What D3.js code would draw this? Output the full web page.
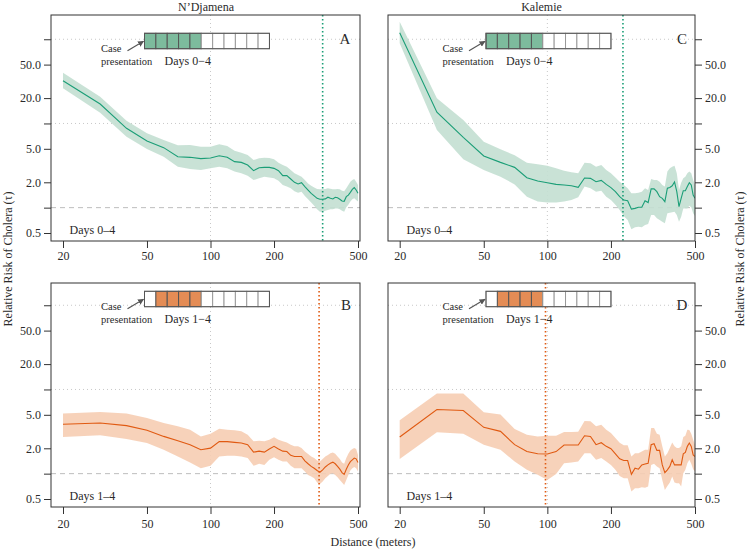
<!DOCTYPE html>
<meta charset="utf-8">
<script src="https://d3js.org/d3.v7.min.js"></script>
<style>
  body { margin: 0; background: #fff; }
  text { font-family: "Liberation Serif", "DejaVu Serif", serif; fill: #2a2a2a; }
</style>
<div id="my_dataviz"></div>
<script>

// distance grid (meters)
var dist = [20,30,40,50,60,70,80,90,100,110,120,130,140,150,160,170,180,190,200,210,220,230,240,250,
            260,270,280,290,300,310,320,330,340,350,360,370,380,390,400,410,420,430,440,450,460,470,480,490,500];

// N'Djamena, days 0-4 (panel A)
var ndjA_rr = [32.2,17.0,8.75,6.19,5.16,4.03,3.96,3.82,3.89,4.14,3.96,3.52,3.45,3.21,2.75,2.98,3.01,3.01,2.93,2.75,2.40,2.40,2.19,2.00,
               1.91,1.98,1.78,1.62,1.48,1.38,1.29,1.26,1.26,1.27,1.33,1.29,1.27,1.33,1.31,1.26,1.20,1.19,1.35,1.41,1.52,1.65,1.73,1.62,1.48];
var ndjA_hi = [40.1,20.8,10.8,7.63,6.36,5.50,5.55,5.30,5.30,5.65,5.40,4.75,4.50,4.22,3.68,3.85,3.92,3.89,3.75,3.42,3.21,3.07,2.80,2.56,
               2.44,2.33,2.13,1.94,1.82,1.73,1.67,1.65,1.65,1.67,1.70,1.68,1.65,1.65,1.67,1.65,1.59,1.57,1.70,1.86,2.03,2.13,2.19,2.03,1.86];
var ndjA_lo = [26.1,13.4,6.97,4.97,4.03,3.07,2.88,2.80,2.93,3.07,2.93,2.68,2.56,2.40,2.13,2.23,2.33,2.28,2.23,2.09,1.86,1.78,1.70,1.57,
               1.50,1.55,1.38,1.26,1.15,1.05,0.955,0.896,0.896,0.92,0.94,0.955,0.955,0.98,0.98,0.955,0.92,0.896,1.01,1.08,1.18,1.26,1.29,1.23,1.18];

// N'Djamena, days 1-4 (panel B)
var ndjB_rr = [3.86,4.00,3.72,3.27,2.77,2.46,2.21,1.92,2.01,2.40,2.40,2.35,2.31,2.21,1.80,1.85,1.80,1.96,2.11,1.96,1.85,1.83,1.65,1.60,
               1.60,1.60,1.42,1.31,1.22,1.16,1.09,1.04,1.11,1.20,1.27,1.33,1.37,1.31,1.22,1.13,1.03,0.98,1.13,1.27,1.39,1.46,1.53,1.50,1.36];
var ndjB_hi = [5.17,5.41,5.17,4.59,4.00,3.65,3.33,2.77,2.98,3.42,3.33,3.27,3.18,2.90,2.42,2.46,2.42,2.53,2.70,2.53,2.42,2.35,2.21,2.11,
               2.11,2.01,1.83,1.71,1.60,1.53,1.43,1.39,1.49,1.60,1.67,1.75,1.78,1.72,1.60,1.49,1.36,1.31,1.53,1.72,1.89,1.96,2.01,1.96,1.67];
var ndjB_lo = [2.72,2.85,2.58,2.31,1.92,1.60,1.36,1.16,1.24,1.60,1.63,1.63,1.60,1.53,1.24,1.31,1.27,1.46,1.57,1.46,1.39,1.39,1.24,1.16,
               1.16,1.16,1.06,0.967,0.924,0.882,0.783,0.754,0.805,0.882,0.94,0.994,1.01,0.967,0.907,0.843,0.783,0.735,0.843,0.967,1.09,1.16,1.20,1.16,1.06];

// Kalemie, days 0-4 (panel C)
var kalC_rr = [119.7,13.6,6.84,4.11,3.45,3.01,2.27,2.07,1.98,1.89,1.86,1.82,1.74,2.25,2.23,2.03,2.11,1.89,1.73,1.55,1.35,1.23,1.21,0.96,
               0.98,1.01,1.01,1.21,1.15,1.67,1.67,1.55,1.35,1.29,1.18,1.70,1.74,1.82,2.02,1.55,1.03,1.29,1.59,1.59,1.78,1.98,1.86,1.41,1.29];
var kalC_hi = [161.8,19.9,11.0,6.08,4.93,4.18,3.42,3.27,3.15,2.93,2.75,2.63,2.56,3.42,3.36,3.07,3.21,2.80,2.56,2.28,2.03,1.86,1.70,1.48,
               1.48,1.50,1.55,1.70,1.62,2.19,2.13,2.13,2.03,1.86,1.78,2.68,2.93,3.07,3.15,2.56,1.62,1.98,2.23,2.33,2.56,2.68,2.56,2.13,1.86];
var kalC_lo = [89.4,8.36,3.75,2.80,2.33,1.89,1.35,1.18,1.15,1.15,1.18,1.23,1.33,1.78,1.70,1.55,1.59,1.35,1.23,1.08,0.94,0.796,0.713,0.553,
               0.584,0.594,0.584,0.622,0.64,0.818,0.818,0.747,0.713,0.682,0.651,0.856,0.87,0.88,0.896,0.818,0.682,0.78,0.98,0.98,0.98,1.05,1.01,0.856,0.796];

// Kalemie, days 1-4 (panel D)
var kalD_rr = [2.72,5.77,5.62,3.55,3.18,2.21,1.83,1.72,1.71,1.83,2.19,2.19,2.19,2.82,2.77,2.21,2.33,2.11,1.98,1.72,1.50,1.43,1.43,0.98,
               1.16,1.13,1.27,1.30,1.33,2.21,2.27,1.89,1.89,1.27,1.03,1.11,1.22,1.46,1.27,1.27,1.27,1.27,1.72,1.79,2.11,2.31,2.11,1.67,1.60];
var kalD_hi = [4.31,8.96,8.96,5.36,5.03,3.39,2.90,2.77,2.82,2.82,3.13,3.13,3.15,4.23,4.19,3.65,3.82,3.33,3.04,2.65,2.33,2.17,2.17,1.60,
               1.75,1.75,1.83,1.92,1.92,3.49,3.49,2.98,2.90,2.11,1.60,1.75,2.01,2.35,2.11,2.01,2.01,2.11,2.72,2.82,3.33,3.30,2.98,2.53,2.21];
var kalD_lo = [1.49,3.10,2.98,2.21,1.92,1.39,1.11,0.97,0.843,0.99,1.33,1.36,1.39,1.75,1.75,1.46,1.53,1.39,1.27,1.11,0.94,0.882,0.882,0.612,
               0.67,0.67,0.689,0.682,0.702,1.27,1.31,1.22,1.16,0.843,0.64,0.715,0.783,0.924,0.783,0.769,0.769,0.702,1.01,1.11,1.33,1.46,1.31,1.13,1.06];

// distance where the risk stops being significant (vertical dotted line)
var cutA = 340, cutB = 327, cutC = 228, cutD = 98;

// axis ticks
var xTicks = [20, 50, 100, 200, 500];
var yTicks = [0.5, 1, 2, 5, 10, 20, 50, 100];
var yTickLabels = ["0.5", "", "2.0", "5.0", "", "20.0", "50.0", ""];
var dayCells = [0,1,2,3,4,5,6,7,8,9,10];

var green = "#1b9e77", greenBand = "#c3dfd1", greenCell = "#7dbb9d";
var orange = "#e05a12", orangeBand = "#f6cdb2", orangeCell = "#e48c55";

var svg = d3.select("#my_dataviz")
  .append("svg")
    .attr("width", 747)
    .attr("height", 550);

svg.append("defs").append("marker")
    .attr("id", "arrow")
    .attr("viewBox", "0 0 10 10")
    .attr("refX", 9).attr("refY", 5)
    .attr("markerWidth", 5).attr("markerHeight", 5)
    .attr("orient", "auto")
  .append("path")
    .attr("d", "M0,0L10,5L0,10z")
    .attr("fill", "#555");

var panels = [
  {key: "A", rr: ndjA_rr, lo: ndjA_lo, hi: ndjA_hi, cut: cutA, x0: 51, x1: 360, y0: 15, y1: 241, xr: [63, 358],
   side: "left", line: green, band: greenBand, cell: greenCell, days: "0", first: 0, box: [144.5, 33.3], letter: [345, 39]},
  {key: "B", rr: ndjB_rr, lo: ndjB_lo, hi: ndjB_hi, cut: cutB, x0: 51, x1: 360, y0: 283, y1: 507, xr: [63, 358],
   side: "left", line: orange, band: orangeBand, cell: orangeCell, days: "1", first: 1, box: [144.5, 291.3], letter: [346, 305]},
  {key: "C", rr: kalC_rr, lo: kalC_lo, hi: kalC_hi, cut: cutC, x0: 388, x1: 695, y0: 15, y1: 241, xr: [399.7, 695],
   side: "right", line: green, band: greenBand, cell: greenCell, days: "0", first: 0, box: [486, 33.3], letter: [682, 39]},
  {key: "D", rr: kalD_rr, lo: kalD_lo, hi: kalD_hi, cut: cutD, x0: 388, x1: 695, y0: 283, y1: 507, xr: [399.7, 695],
   side: "right", line: orange, band: orangeBand, cell: orangeCell, days: "1", first: 1, box: [486, 291.3], letter: [682, 305]}
];

panels.forEach(function(p) {
  var x = d3.scaleLog().domain([20, 500]).range(p.xr);
  var y = d3.scaleLog().domain([0.5, 50]).range([p.y1 - 8, p.y1 - 8 - 168.4]);
  var g = svg.append("g");

  g.append("clipPath").attr("id", "clip" + p.key)
    .append("rect")
      .attr("x", p.x0).attr("y", p.y0)
      .attr("width", p.x1 - p.x0).attr("height", p.y1 - p.y0);

  var inner = g.append("g").attr("clip-path", "url(#clip" + p.key + ")");

  // dotted grid lines
  [10, 100].forEach(function(v) {
    inner.append("line")
      .attr("x1", p.x0).attr("x2", p.x1)
      .attr("y1", y(v)).attr("y2", y(v))
      .attr("stroke", "#c8c8c8").attr("stroke-dasharray", "1,3");
  });
  inner.append("line")
    .attr("x1", x(100)).attr("x2", x(100))
    .attr("y1", p.y0).attr("y2", p.y1)
    .attr("stroke", "#c8c8c8").attr("stroke-dasharray", "1,3");

  // reference line at RR = 1
  inner.append("line")
    .attr("x1", p.x0).attr("x2", p.x1)
    .attr("y1", y(1)).attr("y2", y(1))
    .attr("stroke", "#bdbdbd").attr("stroke-dasharray", "5,4");

  var rows = dist.map(function(d, i) { return {x: d, rr: p.rr[i], lo: p.lo[i], hi: p.hi[i]}; });

  inner.append("path")
    .datum(rows)
    .attr("fill", p.band)
    .attr("fill-opacity", 0.9)
    .attr("d", d3.area()
      .x(function(d) { return x(d.x); })
      .y0(function(d) { return y(d.lo); })
      .y1(function(d) { return y(d.hi); }));

  inner.append("path")
    .datum(rows)
    .attr("fill", "none")
    .attr("stroke", p.line)
    .attr("stroke-width", 1.1)
    .attr("d", d3.line()
      .x(function(d) { return x(d.x); })
      .y(function(d) { return y(d.rr); }));

  inner.append("line")
    .attr("x1", x(p.cut)).attr("x2", x(p.cut))
    .attr("y1", p.y0).attr("y2", p.y1)
    .attr("stroke", p.line).attr("stroke-width", 1.6)
    .attr("stroke-dasharray", "1.5,2.5");

  // frame
  g.append("rect")
    .attr("x", p.x0).attr("y", p.y0)
    .attr("width", p.x1 - p.x0).attr("height", p.y1 - p.y0)
    .attr("fill", "none").attr("stroke", "#333");

  // axes
  var xa = g.append("g")
    .attr("transform", "translate(0," + p.y1 + ")")
    .call(d3.axisBottom(x).tickValues(xTicks).tickFormat(d3.format("d")).tickSize(7).tickPadding(p.y1 > 300 ? 5 : 3));
  var ya = g.append("g")
    .attr("transform", "translate(" + (p.side == "left" ? p.x0 : p.x1) + ",0)")
    .call((p.side == "left" ? d3.axisLeft(y) : d3.axisRight(y))
      .tickValues(yTicks)
      .tickFormat(function(d, i) { return yTickLabels[i]; })
      .tickSize(7).tickPadding(3));
  [xa, ya].forEach(function(a) {
    a.select(".domain").remove();
    a.selectAll("line").attr("stroke", "#333");
    a.selectAll("text").style("font-size", "12px").style("font-family", "Liberation Serif").attr("fill", "#2a2a2a");
  });

  // panel letter
  g.append("text")
    .attr("x", p.letter[0]).attr("y", p.letter[1] + 5)
    .attr("text-anchor", "middle")
    .style("font-size", "15px")
    .text(p.key);

  // corner label
  g.append("text")
    .attr("x", p.x0 + 18.5).attr("y", p.y1 - 7)
    .style("font-size", "12px")
    .text("Days " + p.days + "–4");

  // case presentation inset
  var cw = 11.36, ch = 15.4;
  var ib = g.append("g").attr("transform", "translate(" + p.box[0] + "," + p.box[1] + ")");
  ib.selectAll("rect.cell")
    .data(dayCells)
    .enter().append("rect")
      .attr("class", "cell")
      .attr("x", function(d) { return d * cw; })
      .attr("y", 0)
      .attr("width", cw).attr("height", ch)
      .attr("fill", function(d) { return d >= p.first && d <= 4 ? p.cell : "#fff"; })
      .attr("stroke", function(d) { return d >= p.first && d <= 4 ? "#555" : "#999"; });
  ib.append("rect")
    .attr("width", cw * dayCells.length).attr("height", ch)
    .attr("fill", "none").attr("stroke", "#555");
  ib.append("line")
    .attr("x1", -17).attr("y1", 17.5)
    .attr("x2", -1).attr("y2", 8)
    .attr("stroke", "#555").attr("stroke-width", 1.2)
    .attr("marker-end", "url(#arrow)");
  ib.append("text").attr("x", -43.5).attr("y", 18.5).style("font-size", "10.5px").text("Case");
  ib.append("text").attr("x", -43.5).attr("y", 31.5).style("font-size", "10.5px").text("presentation");
  ib.append("text").attr("x", 20).attr("y", 32).style("font-size", "12px").text("Days " + p.days + "−4");
});

// titles and axis labels
svg.append("text").attr("x", 206).attr("y", 11).attr("text-anchor", "middle").style("font-size", "12px").text("N’Djamena");
svg.append("text").attr("x", 541.5).attr("y", 11).attr("text-anchor", "middle").style("font-size", "12px").text("Kalemie");
svg.append("text").attr("x", 373).attr("y", 546).attr("text-anchor", "middle").style("font-size", "12px").text("Distance (meters)");
svg.append("text")
  .attr("transform", "translate(12,259) rotate(-90)")
  .attr("text-anchor", "middle").style("font-size", "12px")
  .text("Relative Risk of Cholera (τ)");
svg.append("text")
  .attr("transform", "translate(744,259) rotate(-90)")
  .attr("text-anchor", "middle").style("font-size", "12px")
  .text("Relative Risk of Cholera (τ)");

</script>
